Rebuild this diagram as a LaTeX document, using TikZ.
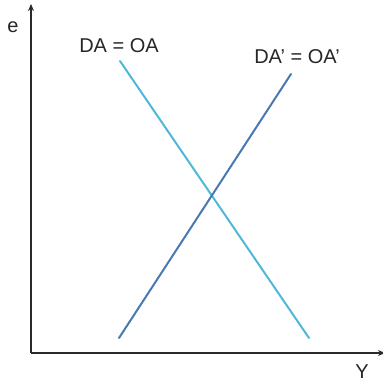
\documentclass[tikz,border=0pt]{standalone}
\usepackage{fontspec}
\setmainfont{Liberation Sans}
\usetikzlibrary{arrows.meta}
\definecolor{dacol}{HTML}{4FB8D8}
\definecolor{dapcol}{HTML}{4A78B2}
\definecolor{axcol}{HTML}{2A2A2A}
\begin{document}
\begin{tikzpicture}[x=1pt,y=-1pt,
  axis/.style={draw=axcol,line width=2pt,-{Stealth[length=7pt,width=6pt]}},
  curve/.style={line width=2pt,line cap=round},
  lbl/.style={inner sep=0pt,font=\fontsize{20}{23}\selectfont,text=black!85}]
\useasboundingbox (0,0) rectangle (383,384);
\coordinate (O) at (31,353);
\coordinate (ytop) at (31,4);
\coordinate (xend) at (385,353);
\draw[axis] (O) -- (ytop);
\draw[axis] (O) -- (xend);
\coordinate (a1) at (120,61);
\coordinate (a2) at (309,338);
\coordinate (b1) at (119,338);
\coordinate (b2) at (291,74);
\draw[curve,draw=dacol] (a1) -- (a2);
\draw[curve,draw=dapcol] (b1) -- (b2);
\node[lbl] (e) at (13,27) {e};
\node[lbl] (Y) at (362,372) {Y};
\node[lbl] (da) at (119,46) {DA = OA};
\node[lbl] (dap) at (297,57) {DA’ = OA’};
\end{tikzpicture}
\end{document}
